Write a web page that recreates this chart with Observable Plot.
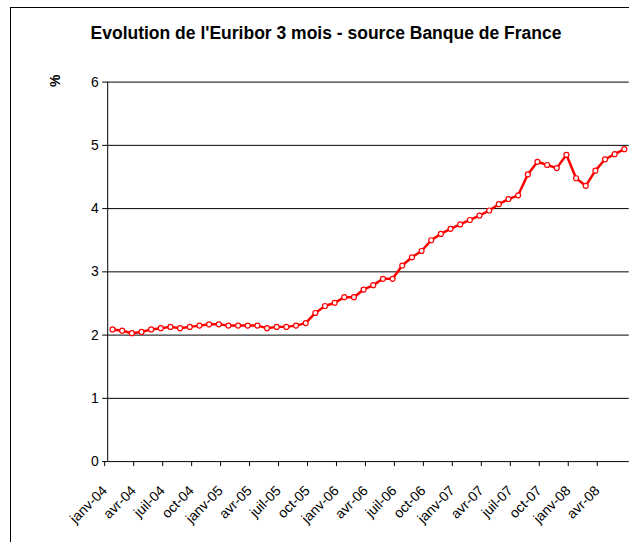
<!DOCTYPE html>
<html><head><meta charset="utf-8">
<script src="https://cdn.jsdelivr.net/npm/d3@7"></script>
<script src="https://cdn.jsdelivr.net/npm/@observablehq/plot@0.6"></script>
<style>
html,body{margin:0;padding:0;background:#fff;}
#wrap{position:relative;width:629px;height:542px;overflow:hidden;font-family:Arial,"Liberation Sans",sans-serif;}
#frame{position:absolute;left:10px;top:7px;width:700px;height:600px;border:1px solid #000;box-sizing:border-box;}
#title{position:absolute;left:0;width:652px;top:23px;text-align:center;font-weight:bold;font-size:17.5px;color:#000;}
#chart{position:absolute;left:0;top:0;}
</style></head><body>
<div id="wrap"><div id="frame"></div><div id="title">Evolution de l'Euribor 3 mois - source Banque de France</div><div id="chart"></div></div>
<script>
const monthNames = ["janv","févr","mars","avr","mai","juin","juil","août","sept","oct","nov","déc"];
const yearLabels = ["04","05","06","07","08"];
const rates2004 = [2.09, 2.07, 2.03, 2.05, 2.09, 2.11, 2.13, 2.11, 2.13, 2.15, 2.17, 2.17];
const rates2005 = [2.15, 2.15, 2.15, 2.15, 2.11, 2.13, 2.13, 2.15, 2.19, 2.35, 2.46, 2.51];
const rates2006 = [2.60, 2.60, 2.72, 2.79, 2.89, 2.89, 3.10, 3.23, 3.33, 3.50, 3.60, 3.68];
const rates2007 = [3.75, 3.82, 3.89, 3.97, 4.07, 4.15, 4.21, 4.54, 4.74, 4.69, 4.64, 4.85];
const rates2008 = [4.48, 4.36, 4.60, 4.78, 4.86, 4.94];
const yTicks = [0, 1, 2, 3, 4, 5, 6];
const gridValues = [1, 2, 3, 4, 5, 6];

const values = [...rates2004, ...rates2005, ...rates2006, ...rates2007, ...rates2008];
const categories = values.map((_, i) => monthNames[i % 12] + "-" + yearLabels[Math.floor(i / 12)]);
const data = values.map((v, i) => ({i, label: categories[i], v}));
const xTicks = d3.range(0, values.length, 3);

const chart = Plot.plot({
  width: 632, height: 542,
  marginLeft: 107.7, marginRight: 0.3, marginTop: 82, marginBottom: 78.7,
  style: {background: "transparent", fontFamily: "Arial, 'Liberation Sans', sans-serif", fontSize: "13px", color: "#000", overflow: "visible"},
  x: {domain: [0, values.length], axis: null},
  y: {domain: [0, 6], axis: null},
  marks: [
    Plot.ruleY(gridValues, {stroke: "#000", strokeWidth: 1, strokeOpacity: 1}),
    Plot.ruleY([0], {stroke: "#000", strokeWidth: 1}),
    Plot.ruleX([0], {stroke: "#000", strokeWidth: 1}),
    Plot.axisY(yTicks, {anchor: "left", tickSize: 5, tickPadding: 4, fontSize: 14, stroke: "#000", label: null, tickFormat: (d) => String(d)}),
    Plot.axisX(xTicks, {anchor: "bottom", tickSize: 5, tickPadding: 22, tickRotate: -45, fontSize: 14, dx: -3, tickFormat: (d) => categories[d], label: null, stroke: "#000"}),
    Plot.text(["%"], {frameAnchor: "top-left", dx: -58, dy: 5, rotate: -90, fontSize: 14, fontWeight: "bold", fill: "#000"}),
    Plot.line(data, {x: (d) => d.i + 0.5, y: "v", stroke: "#ff0000", strokeWidth: 2.5}),
    Plot.dot(data, {x: (d) => d.i + 0.5, y: "v", r: 2.5, fill: "#fff", stroke: "#ff0000", strokeWidth: 1.2})
  ]
});
document.getElementById("chart").appendChild(chart);
</script>
</body></html>
